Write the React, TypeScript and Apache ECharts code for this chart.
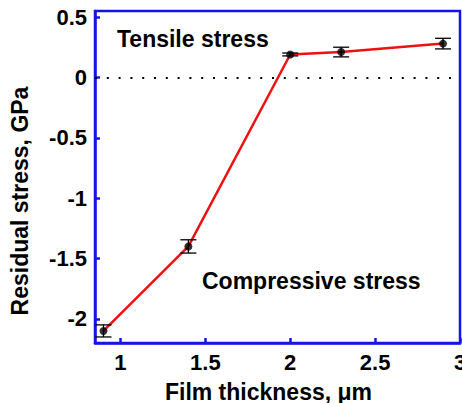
import React, { useEffect, useRef } from "react";
import * as echarts from "echarts";

const thickness = [0.9, 1.4, 2.0, 2.3, 2.9];
const stress = [-2.1, -1.4, 0.19, 0.21, 0.28];
const stressErr = [0.05, 0.055, 0.012, 0.04, 0.044];
const xTicks = [1, 1.5, 2, 2.5, 3];
const yTicks = [-2, -1.5, -1, -0.5, 0, 0.5];
const xTitle = "Film thickness, μm";
const yTitle = "Residual stress, GPa";
const tensileLabel = "Tensile stress";
const compressiveLabel = "Compressive stress";

const BLUE = "#1414e6";
const RED = "#ee1111";
const FONT = "'Liberation Sans', Arial, sans-serif";

export default function App() {
  const ref = useRef<HTMLDivElement>(null);
  useEffect(() => {
    if (!ref.current) return;
    const chart = echarts.init(ref.current, null, { renderer: "svg" });
    const pts = thickness.map((x, i) => [x, stress[i]]);
    const errData = thickness.map((x, i) => [x, stress[i], stressErr[i]]);
    const axisCommon = {
      type: "value" as const,
      axisLine: { show: true, onZero: false, lineStyle: { color: BLUE, width: 2.5 } },
      axisTick: { show: true, inside: true, length: 5, lineStyle: { color: BLUE, width: 2.5 } },
      splitLine: { show: false },
      nameTextStyle: { fontFamily: FONT, fontWeight: "bold", fontSize: 23, color: "#000" },
    };
    chart.setOption({
      animation: false,
      backgroundColor: "#fff",
      grid: {
        left: 95, right: 2, top: 11, bottom: 60,
        outerBoundsMode: "none",
        show: true, borderColor: BLUE, borderWidth: 2.5, backgroundColor: "transparent",
      },
      xAxis: {
        ...axisCommon,
        min: 0.85, max: 3,
        axisTick: { ...axisCommon.axisTick, customValues: xTicks },
        axisLabel: {
          customValues: xTicks, margin: 8, fontFamily: FONT, fontWeight: "bold", fontSize: 22, color: "#000",
        },
        name: xTitle, nameLocation: "middle", nameGap: 37,
        nameTextStyle: { ...axisCommon.nameTextStyle, padding: [0, 18, 0, 0] },
      },
      yAxis: {
        ...axisCommon,
        min: -2.2, max: 0.55,
        axisTick: { ...axisCommon.axisTick, customValues: yTicks },
        axisLabel: {
          customValues: yTicks, margin: 8, fontFamily: FONT, fontWeight: "bold", fontSize: 22, color: "#000",
        },
        name: yTitle, nameLocation: "middle", nameGap: 64,
        nameTextStyle: { ...axisCommon.nameTextStyle, padding: [0, 48, 0, 0] },
      },
      graphic: [
        {
          type: "text", left: 117, top: 27,
          style: { text: tensileLabel, fontFamily: FONT, fontWeight: "bold", fontSize: 23, fill: "#000" },
        },
        {
          type: "text", left: 202, top: 269,
          style: { text: compressiveLabel, fontFamily: FONT, fontWeight: "bold", fontSize: 23, fill: "#000" },
        },
      ],
      series: [
        {
          type: "line",
          data: pts,
          symbol: "none",
          lineStyle: { color: RED, width: 2.5 },
          z: 2,
          markLine: {
            silent: true,
            symbol: "none",
            label: { show: false },
            lineStyle: { color: "#000", width: 2, type: [2, 9.8] },
            data: [{ yAxis: 0 }],
          },
        },
        {
          type: "custom",
          data: errData,
          z: 3,
          renderItem: (params: any, api: any) => {
            const x = api.value(0);
            const y = api.value(1);
            const e = api.value(2);
            const top = api.coord([x, y + e]);
            const bot = api.coord([x, y - e]);
            const hw = 8;
            const style = { stroke: "#000", lineWidth: 1.3 };
            return {
              type: "group",
              children: [
                { type: "line", shape: { x1: top[0], y1: top[1], x2: bot[0], y2: bot[1] }, style },
                { type: "line", shape: { x1: top[0] - hw, y1: top[1], x2: top[0] + hw, y2: top[1] }, style },
                { type: "line", shape: { x1: bot[0] - hw, y1: bot[1], x2: bot[0] + hw, y2: bot[1] }, style },
              ],
            };
          },
        },
        {
          type: "scatter",
          data: pts,
          symbol: "circle",
          symbolSize: 8,
          itemStyle: { color: "#000" },
          z: 4,
        },
      ],
    });
    return () => chart.dispose();
  }, []);
  return (
    <div
      ref={ref}
      style={{ position: "fixed", left: 0, top: 0, width: 462, height: 403 }}
    />
  );
}
